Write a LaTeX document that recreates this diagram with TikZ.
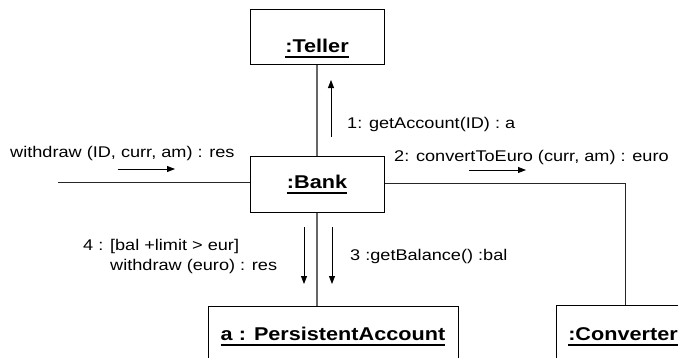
\documentclass[tikz,border=0pt]{standalone}
\usepackage{fontspec}
\setmainfont{Liberation Sans}[FakeStretch=1.17]
\usepackage{tikz}
\usetikzlibrary{arrows.meta,positioning,calc}

\newcommand{\objul}[1]{\setbox0\hbox{#1}\rlap{\raisebox{-5.5pt}{\rule{\wd0}{1.7pt}}}\box0}

\begin{document}
\begin{tikzpicture}[x=1pt, y=-1pt,
  obj/.style={draw, line width=1pt, inner sep=0pt, minimum width=134pt,
    font=\fontsize{18.5}{22}\selectfont\bfseries},
  lbl/.style={inner sep=0pt, anchor=base west, font=\fontsize{15.5}{18}\selectfont},
  link/.style={line width=1.2pt, black!60},
  wire/.style={line width=1pt, black!85},
  msg/.style={-{Triangle[length=8pt,width=6pt]}, line width=0.8pt}
]
\useasboundingbox (0,0) rectangle (678,357);
\clip (0,0) rectangle (678,357);

% objects
\node[obj, text height=43pt, text depth=12pt] (teller) at (317,36.5) {\objul{:Teller}};
\node[obj, text height=32pt, text depth=24pt] (bank) at (317,184) {\objul{:Bank}};
\node[obj, minimum width=250pt, text height=34pt, text depth=30pt] (acct) at (333,338) {\objul{a : PersistentAccount}};
\node[obj, text height=35pt, text depth=30pt] (conv) at (623,337.5) {\objul{:Converter}};
\coordinate (src) at (58,182);

% links
\draw[link] (bank.north) -- (teller.south);
\draw[link] (bank.south) -- (acct.north -| bank.south);
\draw[wire] (src) -- (src -| bank.west);
\draw[wire] (bank.east |- 0,183) -| (625,0 |- conv.north);

% messages
\node[lbl] (m0) at (10,157) {withdraw (ID, curr, am) : res};
\node[lbl] (m1) at (347,128) {1: getAccount(ID) : a};
\node[lbl] (m2) at (394,161) {2: convertToEuro (curr, am) : euro};
\node[lbl] (m3) at (350,260) {3 :getBalance() :bal};
\node[lbl] (m4) at (83,250) {4 : [bal +limit > eur]};
\node[lbl] (m4b) at (110,270) {withdraw (euro) : res};

\coordinate (a0) at (118,169); \coordinate (b0) at (175,169);
\coordinate (a1) at (331,137); \coordinate (b1) at (331,80);
\coordinate (a2) at (469,170); \coordinate (b2) at (526,170);
\coordinate (a3) at (332,227); \coordinate (b3) at (332,284);
\coordinate (a4) at (304,227); \coordinate (b4) at (304,284);
\draw[msg] (a0) -- (b0);
\draw[msg] (a1) -- (b1);
\draw[msg] (a2) -- (b2);
\draw[msg] (a3) -- (b3);
\draw[msg] (a4) -- (b4);
\end{tikzpicture}
\end{document}
